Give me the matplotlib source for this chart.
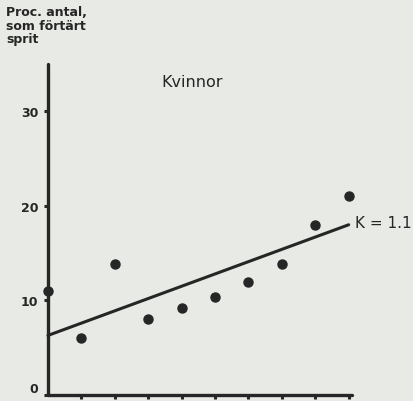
import numpy as np
import matplotlib.pyplot as plt

# data
x_pos = [0, 1, 2, 3, 4, 5, 6, 7, 8, 9]
procent = [11.0, 6.0, 13.9, 8.0, 9.2, 10.4, 11.9, 13.9, 18.0, 21.0]
trend_x = [0, 9]
trend_y = [6.3, 18.0]
y_ticks = [0, 10, 20, 30]

bg = '#e8eae5'
ink = '#262626'

fig = plt.figure(figsize=(4.14, 4.02), dpi=100, facecolor=bg)
ax = fig.add_axes([48 / 414, 6 / 402, 304 / 414, 331 / 402])
ax.set_facecolor(bg)

ax.plot(trend_x, trend_y, color=ink, lw=2.2, solid_capstyle='round', clip_on=False)
ax.plot(x_pos, procent, 'o', color=ink, ms=6.5, clip_on=False)

ax.set_xlim(0, 9.1)
ax.set_ylim(0, 35)
for s in ['top', 'right']:
    ax.spines[s].set_visible(False)
for s in ['left', 'bottom']:
    ax.spines[s].set_linewidth(2.4)
    ax.spines[s].set_color(ink)
    ax.spines[s].set_capstyle('round')

ax.set_xticks(range(1, 10))
ax.set_xticklabels([])
ax.set_yticks(y_ticks)
ax.set_yticklabels([str(t) for t in y_ticks], fontsize=9, fontweight='bold', color=ink)
ax.tick_params(axis='both', direction='out', length=3, width=2.2, color=ink, pad=4)
ax.get_yticklabels()[0].set_va('bottom')

ax.text(4.3, 33.1, 'Kvinnor', fontsize=11.5, color=ink, ha='center', va='center')
ax.text(9.2, 18.2, 'K = 1.1', fontsize=11, color=ink, ha='left', va='center', clip_on=False)

fig.text(6 / 414, 1 - 6 / 402, 'Proc. antal,\nsom förtärt\nsprit', fontsize=9,
         fontweight='bold', color=ink, ha='left', va='top', linespacing=1.05)

plt.savefig('out.png', facecolor=bg)
